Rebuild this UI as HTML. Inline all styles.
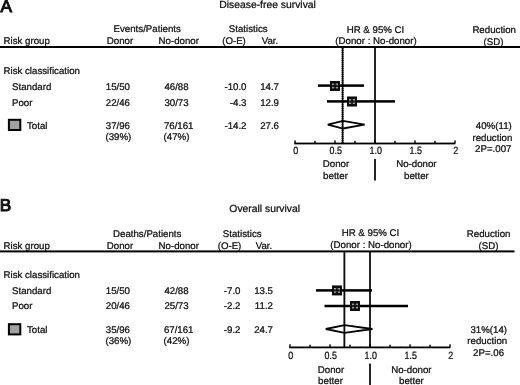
<!DOCTYPE html>
<html><head><meta charset="utf-8"><title>Forest plot</title>
<style>
html,body{margin:0;padding:0;background:#fff;}
body{width:520px;height:385px;overflow:hidden;font-family:"Liberation Sans",sans-serif;}
svg{display:block;}
svg text{font-family:"Liberation Sans",sans-serif;font-size:9.7px;fill:#0a0a0a;stroke:#0a0a0a;stroke-width:0.22px;text-rendering:geometricPrecision;}
</style></head><body>
<svg width="520" height="385" viewBox="0 0 520 385">
<defs><filter id="soft" x="0" y="0" width="520" height="385" filterUnits="userSpaceOnUse"><feGaussianBlur stdDeviation="0.42"/></filter></defs>
<rect width="520" height="385" fill="#fff"/>
<g filter="url(#soft)">
<!-- Panel A -->
<text x="0.5" y="12.3" style="font-size:17.2px;stroke-width:1px">A</text>
<text x="267.6" y="7.8" text-anchor="middle" style="font-size:10.35px">Disease-free survival</text>
<text x="147.2" y="32" text-anchor="middle">Events/Patients</text>
<text x="3.5" y="43.9">Risk group</text>
<text x="120" y="43.9" text-anchor="middle">Donor</text>
<text x="178.8" y="43.9" text-anchor="middle">No-donor</text>
<text x="248.2" y="32" text-anchor="middle">Statistics</text>
<text x="234.0" y="43.9" text-anchor="middle">(O-E)</text>
<text x="270" y="43.9" text-anchor="middle">Var.</text>
<text x="375.5" y="33" text-anchor="middle">HR &amp; 95% CI</text>
<text x="376" y="44" text-anchor="middle">(Donor : No-donor)</text>
<text x="494.2" y="33" text-anchor="middle">Reduction</text>
<text x="493.5" y="44.6" text-anchor="middle">(SD)</text>
<rect x="0" y="46" width="520" height="2" fill="#000"/>
<text x="3.5" y="73.5">Risk classification</text>
<text x="12" y="89.6">Standard</text>
<text x="117.9" y="89.6" text-anchor="middle">15/50</text>
<text x="176.5" y="89.6" text-anchor="middle">46/88</text>
<text x="246.5" y="89.6" text-anchor="end">-10.0</text>
<text x="279" y="89.6" text-anchor="end">14.7</text>
<text x="12" y="105.6">Poor</text>
<text x="117.9" y="105.6" text-anchor="middle">22/46</text>
<text x="176.5" y="105.6" text-anchor="middle">30/73</text>
<text x="246.5" y="105.6" text-anchor="end">-4.3</text>
<text x="279" y="105.6" text-anchor="end">12.9</text>
<rect x="8.9" y="119.8" width="11.4" height="10.2" fill="#a2a2a2" stroke="#000" stroke-width="2"/>
<text x="27" y="128.5">Total</text>
<text x="117.9" y="128.5" text-anchor="middle">37/96</text>
<text x="178.7" y="128.5" text-anchor="middle">76/161</text>
<text x="246.5" y="128.5" text-anchor="end">-14.2</text>
<text x="279" y="128.5" text-anchor="end">27.6</text>
<text x="118.4" y="140" text-anchor="middle">(39%)</text>
<text x="176.5" y="140" text-anchor="middle">(47%)</text>
<text x="493.8" y="128.8" text-anchor="middle">40%(11)</text>
<text x="492.4" y="141" text-anchor="middle">reduction</text>
<text x="493.3" y="151.8" text-anchor="middle">2P=.007</text>
<rect x="374.15" y="47" width="1.7" height="96.5" fill="#000"/>
<polygon points="327.8,124.7 343,120.9 364.6,124.7 343,128.5" fill="#fff" stroke="#000" stroke-width="1.8" stroke-linejoin="miter"/>
<line x1="342.6" y1="48" x2="342.6" y2="143.5" stroke="#141414" stroke-width="1.5"/>
<line x1="342.6" y1="48" x2="342.6" y2="143.5" stroke="#000" stroke-width="1.9" stroke-dasharray="1.2,0.8"/>
<rect x="318" y="84.35" width="46" height="2.5" fill="#000"/>
<rect x="327" y="100.15" width="68" height="2.5" fill="#000"/>
<rect x="330" y="81" width="10" height="10" fill="#0c0c0c"/>
<path d="M332.4 84.25H337.6M332.4 87.75H337.6M332.95 83.7V88.3M337.05 83.7V88.3" stroke="#3a3a3a" stroke-width="0.9" fill="none"/>
<rect x="332.3" y="83.63" width="1.3" height="1.25" fill="#ececec"/>
<rect x="332.3" y="87.13" width="1.3" height="1.25" fill="#ececec"/>
<rect x="336.4" y="83.63" width="1.3" height="1.25" fill="#ececec"/>
<rect x="336.4" y="87.13" width="1.3" height="1.25" fill="#ececec"/>
<rect x="347" y="96.5" width="10" height="10" fill="#0c0c0c"/>
<path d="M349.4 99.75H354.6M349.4 103.25H354.6M349.95 99.2V103.8M354.05 99.2V103.8" stroke="#3a3a3a" stroke-width="0.9" fill="none"/>
<rect x="349.3" y="99.13" width="1.3" height="1.25" fill="#ececec"/>
<rect x="349.3" y="102.63" width="1.3" height="1.25" fill="#ececec"/>
<rect x="353.4" y="99.13" width="1.3" height="1.25" fill="#ececec"/>
<rect x="353.4" y="102.63" width="1.3" height="1.25" fill="#ececec"/>
<rect x="294.25" y="142.6" width="161" height="1.8" fill="#000"/>
<rect x="294.3" y="140.4" width="1.4" height="3.1" fill="#000"/>
<rect x="314.3" y="140.8" width="1.4" height="2.7" fill="#000"/>
<rect x="334.3" y="140.4" width="1.4" height="3.1" fill="#000"/>
<rect x="354.3" y="140.8" width="1.4" height="2.7" fill="#000"/>
<rect x="374.3" y="140.4" width="1.4" height="3.1" fill="#000"/>
<rect x="394.3" y="140.8" width="1.4" height="2.7" fill="#000"/>
<rect x="414.3" y="140.4" width="1.4" height="3.1" fill="#000"/>
<rect x="434.3" y="140.8" width="1.4" height="2.7" fill="#000"/>
<rect x="454.3" y="140.4" width="1.4" height="3.1" fill="#000"/>
<text transform="translate(295.8 154) scale(0.85 1)" text-anchor="middle" style="font-size:10.5px">0</text>
<text transform="translate(335.8 154) scale(0.85 1)" text-anchor="middle" style="font-size:10.5px">0.5</text>
<text transform="translate(375.8 154) scale(0.85 1)" text-anchor="middle" style="font-size:10.5px">1.0</text>
<text transform="translate(415.8 154) scale(0.85 1)" text-anchor="middle" style="font-size:10.5px">1.5</text>
<text transform="translate(455.8 154) scale(0.85 1)" text-anchor="middle" style="font-size:10.5px">2</text>
<text x="336.0" y="167.4" text-anchor="middle">Donor</text>
<text x="335.5" y="179" text-anchor="middle">better</text>
<text x="416.4" y="167.4" text-anchor="middle">No-donor</text>
<text x="416.4" y="179" text-anchor="middle">better</text>
<rect x="374.15" y="159" width="1.7" height="21.5" fill="#000"/>
<!-- Panel B -->
<text x="-0.2" y="211.2" style="font-size:17.2px;stroke-width:1px">B</text>
<text x="264.7" y="211.9" text-anchor="middle" style="font-size:10.35px">Overall survival</text>
<text x="147.2" y="237" text-anchor="middle">Deaths/Patients</text>
<text x="3.5" y="248.5">Risk group</text>
<text x="120" y="248.5" text-anchor="middle">Donor</text>
<text x="178.8" y="248.5" text-anchor="middle">No-donor</text>
<text x="242.2" y="237" text-anchor="middle">Statistics</text>
<text x="229.5" y="248.5" text-anchor="middle">(O-E)</text>
<text x="264" y="248.5" text-anchor="middle">Var.</text>
<text x="370.5" y="236.4" text-anchor="middle">HR &amp; 95% CI</text>
<text x="371" y="248.3" text-anchor="middle">(Donor : No-donor)</text>
<text x="488.6" y="237" text-anchor="middle">Reduction</text>
<text x="488.5" y="248.5" text-anchor="middle">(SD)</text>
<rect x="0" y="250.4" width="514.5" height="2" fill="#000"/>
<text x="3.5" y="278">Risk classification</text>
<text x="12" y="294">Standard</text>
<text x="117.9" y="294" text-anchor="middle">15/50</text>
<text x="176.5" y="294" text-anchor="middle">42/88</text>
<text x="240.5" y="294" text-anchor="end">-7.0</text>
<text x="273" y="294" text-anchor="end">13.5</text>
<text x="12" y="309">Poor</text>
<text x="117.9" y="309" text-anchor="middle">20/46</text>
<text x="176.5" y="309" text-anchor="middle">25/73</text>
<text x="240.5" y="309" text-anchor="end">-2.2</text>
<text x="273" y="309" text-anchor="end">11.2</text>
<rect x="8.9" y="324.2" width="11.4" height="10.2" fill="#a2a2a2" stroke="#000" stroke-width="2"/>
<text x="27" y="333">Total</text>
<text x="117.9" y="333" text-anchor="middle">35/96</text>
<text x="178.7" y="333" text-anchor="middle">67/161</text>
<text x="240.5" y="333" text-anchor="end">-9.2</text>
<text x="273" y="333" text-anchor="end">24.7</text>
<text x="118.4" y="343.9" text-anchor="middle">(36%)</text>
<text x="176.5" y="343.9" text-anchor="middle">(42%)</text>
<text x="488.7" y="333" text-anchor="middle">31%(14)</text>
<text x="487.3" y="344.4" text-anchor="middle">reduction</text>
<text x="488.6" y="356" text-anchor="middle">2P=.06</text>
<rect x="369.15" y="251.4" width="1.7" height="95.99999999999997" fill="#000"/>
<polygon points="325.8,329 344.5,325.2 372.4,329 344.5,332.8" fill="#fff" stroke="#000" stroke-width="1.8" stroke-linejoin="miter"/>
<line x1="344.4" y1="252.4" x2="344.4" y2="347.4" stroke="#141414" stroke-width="1.5"/>
<line x1="344.4" y1="252.4" x2="344.4" y2="347.4" stroke="#000" stroke-width="1.9" stroke-dasharray="1.2,0.8"/>
<rect x="316" y="289.15" width="56" height="2.5" fill="#000"/>
<rect x="324.5" y="304.75" width="83.5" height="2.5" fill="#000"/>
<rect x="332" y="285.4" width="10" height="10" fill="#0c0c0c"/>
<path d="M334.4 288.65H339.6M334.4 292.15H339.6M334.95 288.09999999999997V292.7M339.05 288.09999999999997V292.7" stroke="#3a3a3a" stroke-width="0.9" fill="none"/>
<rect x="334.3" y="288.03" width="1.3" height="1.25" fill="#ececec"/>
<rect x="334.3" y="291.53" width="1.3" height="1.25" fill="#ececec"/>
<rect x="338.4" y="288.03" width="1.3" height="1.25" fill="#ececec"/>
<rect x="338.4" y="291.53" width="1.3" height="1.25" fill="#ececec"/>
<rect x="350" y="301" width="10" height="10" fill="#0c0c0c"/>
<path d="M352.4 304.25H357.6M352.4 307.75H357.6M352.95 303.7V308.3M357.05 303.7V308.3" stroke="#3a3a3a" stroke-width="0.9" fill="none"/>
<rect x="352.3" y="303.63" width="1.3" height="1.25" fill="#ececec"/>
<rect x="352.3" y="307.13" width="1.3" height="1.25" fill="#ececec"/>
<rect x="356.4" y="303.63" width="1.3" height="1.25" fill="#ececec"/>
<rect x="356.4" y="307.13" width="1.3" height="1.25" fill="#ececec"/>
<rect x="289.25" y="346.5" width="161" height="1.8" fill="#000"/>
<rect x="289.3" y="344.29999999999995" width="1.4" height="3.1" fill="#000"/>
<rect x="309.3" y="344.7" width="1.4" height="2.7" fill="#000"/>
<rect x="329.3" y="344.29999999999995" width="1.4" height="3.1" fill="#000"/>
<rect x="349.3" y="344.7" width="1.4" height="2.7" fill="#000"/>
<rect x="369.3" y="344.29999999999995" width="1.4" height="3.1" fill="#000"/>
<rect x="389.3" y="344.7" width="1.4" height="2.7" fill="#000"/>
<rect x="409.3" y="344.29999999999995" width="1.4" height="3.1" fill="#000"/>
<rect x="429.3" y="344.7" width="1.4" height="2.7" fill="#000"/>
<rect x="449.3" y="344.29999999999995" width="1.4" height="3.1" fill="#000"/>
<text transform="translate(290.8 358.5) scale(0.85 1)" text-anchor="middle" style="font-size:10.5px">0</text>
<text transform="translate(330.8 358.5) scale(0.85 1)" text-anchor="middle" style="font-size:10.5px">0.5</text>
<text transform="translate(370.8 358.5) scale(0.85 1)" text-anchor="middle" style="font-size:10.5px">1.0</text>
<text transform="translate(410.8 358.5) scale(0.85 1)" text-anchor="middle" style="font-size:10.5px">1.5</text>
<text transform="translate(450.8 358.5) scale(0.85 1)" text-anchor="middle" style="font-size:10.5px">2</text>
<text x="331.0" y="373" text-anchor="middle">Donor</text>
<text x="330.5" y="384.4" text-anchor="middle">better</text>
<text x="411.4" y="373" text-anchor="middle">No-donor</text>
<text x="411.4" y="384.4" text-anchor="middle">better</text>
<rect x="369.15" y="363.6" width="1.7" height="21.399999999999977" fill="#000"/>
</g>
</svg>
</body></html>
